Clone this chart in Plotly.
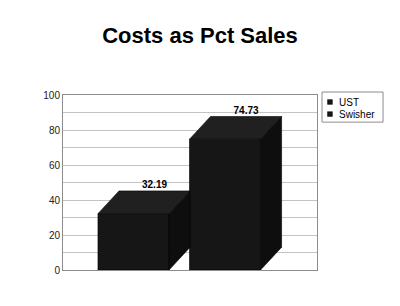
import plotly.graph_objects as go

# ---- data ----
categories = ["UST", "Swisher"]
values = [32.19, 74.73]
value_labels = ["32.19", "74.73"]
y_ticks = [0, 20, 40, 60, 80, 100]

# ---- style ----
positions = [0, 1]
bar_width = 0.776
depth_x = 0.23      # 3D depth offset in x-axis units
depth_y = 13.0      # 3D depth offset in y-axis units
front_col = "#161616"
top_col = "#202020"
side_col = "#0e0e0e"
font_family = "Liberation Sans, Arial, sans-serif"

fig = go.Figure()

for i, (cat, v) in enumerate(zip(categories, values)):
    c = positions[i]
    l, r = c - bar_width / 2, c + bar_width / 2
    # side face
    fig.add_trace(go.Scatter(
        x=[r, r, r + depth_x, r + depth_x, r],
        y=[0, v, v + depth_y, depth_y, 0],
        mode="lines", fill="toself", fillcolor=side_col,
        line=dict(color="#000000", width=0.6),
        showlegend=False, hoverinfo="skip"))
    # top face
    fig.add_trace(go.Scatter(
        x=[l, r, r + depth_x, l + depth_x, l],
        y=[v, v, v + depth_y, v + depth_y, v],
        mode="lines", fill="toself", fillcolor=top_col,
        line=dict(color="#000000", width=0.6),
        showlegend=False, hoverinfo="skip"))

# front faces as real bars
for i, (cat, v) in enumerate(zip(categories, values)):
    fig.add_trace(go.Bar(
        x=[positions[i]], y=[v], width=bar_width, name=cat,
        marker=dict(color=front_col, line=dict(color="#000000", width=0.6)),
        showlegend=False))

# value labels above the back top edge
fig.add_trace(go.Scatter(
    x=[p + depth_x for p in positions],
    y=[v + depth_y for v in values],
    mode="text", text=value_labels, textposition="top center",
    textfont=dict(family=font_family, size=10, color="#000000"),
    texttemplate="<b>%{text}</b>",
    showlegend=False, hoverinfo="skip"))

# compact legend box (drawn in paper coordinates so the plot area is not shrunk)
shapes = [dict(type="rect", xref="paper", yref="paper",
               x0=1.0197, x1=1.26, y0=0.845, y1=1.017,
               line=dict(color="#8c8c8c", width=1), fillcolor="white")]
annotations = []
entry_y = [0.960, 0.891]
for cat, ey in zip(categories, entry_y):
    shapes.append(dict(type="rect", xref="paper", yref="paper",
                       x0=1.051 - 0.0095, x1=1.051 + 0.0095,
                       y0=ey - 0.0135, y1=ey + 0.0135,
                       line=dict(color="#000000", width=0.5), fillcolor=front_col))
    annotations.append(dict(xref="paper", yref="paper", x=1.077, y=ey,
                            xanchor="left", yanchor="middle", showarrow=False,
                            text=cat, font=dict(family=font_family, size=10, color="#000000")))

fig.update_layout(
    width=400, height=306,
    margin=dict(l=63, r=83, t=95, b=36, autoexpand=False),
    paper_bgcolor="white", plot_bgcolor="white",
    title=dict(text="<b>Costs as Pct Sales</b>", x=0.5, xref="container",
               y=1 - 35 / 306, yref="container", yanchor="middle", xanchor="center",
               font=dict(family=font_family, size=22, color="#000000")),
    showlegend=False,
    barmode="overlay",
    shapes=shapes,
    annotations=annotations,
)

fig.update_xaxes(range=[-0.77, 2.005], showticklabels=False, showgrid=False,
                 zeroline=False, showline=True, linecolor="#8c8c8c", linewidth=1,
                 mirror=True, ticks="")
fig.update_yaxes(range=[0, 100], tickvals=y_ticks, showgrid=True, gridcolor="#c4c4c4",
                 gridwidth=1, minor=dict(dtick=10, showgrid=True, gridcolor="#c4c4c4"),
                 zeroline=False, showline=True, linecolor="#8c8c8c", linewidth=1,
                 mirror=True, ticks="",
                 tickfont=dict(family=font_family, size=10, color="#222222"))

fig.write_html("out.html")
